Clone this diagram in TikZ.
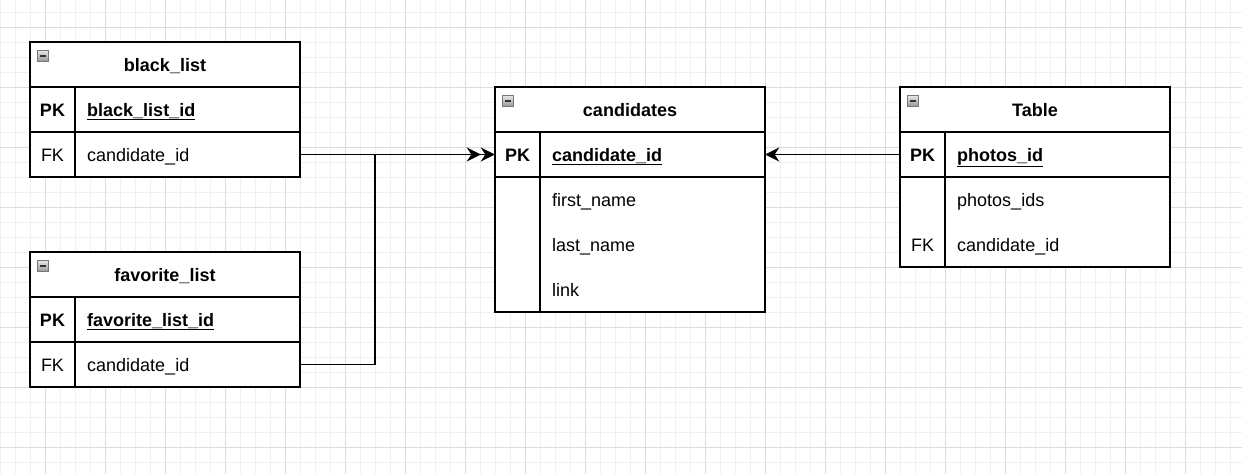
\documentclass[tikz,border=0pt]{standalone}
\usepackage{fontspec}
\setmainfont{Liberation Sans}
\usetikzlibrary{arrows.meta}
\definecolor{gridminor}{RGB}{240,240,240}
\definecolor{gridmajor}{RGB}{220,220,220}
\definecolor{iconborder}{RGB}{120,120,120}
\tikzset{
  tbl/.style={line width=1.8pt, draw=black},
  txt/.style={inner sep=0pt, text height=13pt, text depth=0pt, font=\fontsize{18}{22}\selectfont},
  hdr/.style={txt, font=\fontsize{18}{22}\selectfont\bfseries},
  keyb/.style={txt, font=\fontsize{18}{22}\selectfont\bfseries},
  fld/.style={txt, anchor=west},
  fldpk/.style={txt, anchor=west, font=\fontsize{18}{22}\selectfont\bfseries},
  rowbox/.style={inner sep=0pt, minimum width=270pt, minimum height=45pt, draw=none},
  conn/.style={line width=1.8pt},
  dbl/.style={-{Stealth[length=14pt 0,width=14pt 0,inset=4.5pt]Stealth[length=14pt 0,width=14pt 0,inset=4.5pt]}},
  sgl/.style={-{Stealth[length=14pt 0,width=14pt 0,inset=4.5pt]}},
  icon/.style={draw=iconborder, line width=0.8pt, top color=black!8, bottom color=black!40}
}
\begin{document}
\begin{tikzpicture}[x=1pt,y=-1pt]
\useasboundingbox (0,0) rectangle (1242,474);
\fill[white] (0,0) rectangle (1242,474);
% grid
\foreach \x in {0,15,...,1240} \draw[gridminor, line width=0.8pt] (\x,0) -- (\x,474);
\foreach \y in {12,27,...,470} \draw[gridminor, line width=0.8pt] (0,\y) -- (1242,\y);
\foreach \x in {45,105,...,1240} \draw[gridmajor, line width=0.8pt] (\x,0) -- (\x,474);
\foreach \y in {27,87,...,470} \draw[gridmajor, line width=0.8pt] (0,\y) -- (1242,\y);

% ---------- black_list ----------
\fill[white] (30,42) rectangle (300,177);
\draw[tbl] (30,42) rectangle (300,177);
\draw[tbl] (30,87) -- (300,87) (30,132) -- (300,132) (75,87) -- (75,177);
\draw[icon] (37,50) rectangle (48,61);
\draw[line width=2pt, black!80] (39.5,55.5) -- (45.5,55.5);
\node[hdr] (blh) at (165,64.5) {black\_list};
\node[keyb] (blpkk) at (52.5,109.5) {PK};
\node[fldpk] (blpk) at (87,109.5) {\underline{black\_list\_id}};
\node[txt] (blfkk) at (52.5,154.5) {FK};
\node[fld] (blfkt) at (87,154.5) {candidate\_id};
\node[rowbox] (blfk) at (165,154.5) {};

% ---------- favorite_list ----------
\fill[white] (30,252) rectangle (300,387);
\draw[tbl] (30,252) rectangle (300,387);
\draw[tbl] (30,297) -- (300,297) (30,342) -- (300,342) (75,297) -- (75,387);
\draw[icon] (37,260) rectangle (48,271);
\draw[line width=2pt, black!80] (39.5,265.5) -- (45.5,265.5);
\node[hdr] (flh) at (165,274.5) {favorite\_list};
\node[keyb] (flpkk) at (52.5,319.5) {PK};
\node[fldpk] (flpk) at (87,319.5) {\underline{favorite\_list\_id}};
\node[txt] (flfkk) at (52.5,364.5) {FK};
\node[fld] (flfkt) at (87,364.5) {candidate\_id};
\node[rowbox] (flfk) at (165,364.5) {};

% ---------- candidates ----------
\fill[white] (495,87) rectangle (765,312);
\draw[tbl] (495,87) rectangle (765,312);
\draw[tbl] (495,132) -- (765,132) (495,177) -- (765,177) (540,132) -- (540,312);
\draw[icon] (502,95) rectangle (513,106);
\draw[line width=2pt, black!80] (504.5,100.5) -- (510.5,100.5);
\node[hdr] (cah) at (630,109.5) {candidates};
\node[keyb] (capkk) at (517.5,154.5) {PK};
\node[fldpk] (capkt) at (552,154.5) {\underline{candidate\_id}};
\node[rowbox] (capk) at (630,154.5) {};
\node[fld] (cafn) at (552,199.5) {first\_name};
\node[fld] (caln) at (552,244.5) {last\_name};
\node[fld] (calk) at (552,289.5) {link};

% ---------- Table ----------
\fill[white] (900,87) rectangle (1170,267);
\draw[tbl] (900,87) rectangle (1170,267);
\draw[tbl] (900,132) -- (1170,132) (900,177) -- (1170,177) (945,132) -- (945,267);
\draw[icon] (907,95) rectangle (918,106);
\draw[line width=2pt, black!80] (909.5,100.5) -- (915.5,100.5);
\node[hdr] (tbh) at (1035,109.5) {Table};
\node[keyb] (tbpkk) at (922.5,154.5) {PK};
\node[fldpk] (tbpkt) at (957,154.5) {\underline{photos\_id}};
\node[rowbox] (tbpk) at (1035,154.5) {};
\node[fld] (tbph) at (957,199.5) {photos\_ids};
\node[txt] (tbfkk) at (922.5,244.5) {FK};
\node[fld] (tbfk) at (957,244.5) {candidate\_id};

% ---------- connectors ----------
\coordinate (j) at (375,154.5);
\draw[conn, dbl] (blfk.east) -- (capk.west);
\draw[conn] (flfk.east) -| (j);
\draw[conn, sgl] (tbpk.west) -- (capk.east);
\end{tikzpicture}
\end{document}
